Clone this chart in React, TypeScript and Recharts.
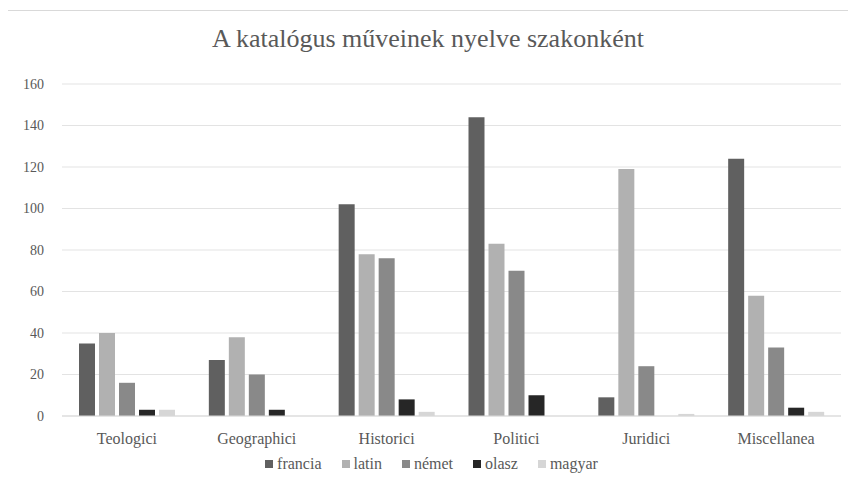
import React from "react";
import {
  BarChart,
  Bar,
  XAxis,
  YAxis,
  CartesianGrid,
  Legend,
} from "recharts";

const categories = [
  "Teologici",
  "Geographici",
  "Historici",
  "Politici",
  "Juridici",
  "Miscellanea",
];
const francia = [35, 27, 102, 144, 9, 124];
const latin = [40, 38, 78, 83, 119, 58];
const nemet = [16, 20, 76, 70, 24, 33];
const olasz = [3, 3, 8, 10, 0, 4];
const magyar = [3, 0, 2, 0, 1, 2];
const yTicks = [0, 20, 40, 60, 80, 100, 120, 140, 160];

const data = categories.map((name, i) => ({
  name,
  francia: francia[i],
  latin: latin[i],
  német: nemet[i],
  olasz: olasz[i],
  magyar: magyar[i],
}));

const series = [
  { key: "francia", color: "#606060" },
  { key: "latin", color: "#b1b1b1" },
  { key: "német", color: "#898989" },
  { key: "olasz", color: "#262626" },
  { key: "magyar", color: "#d6d6d6" },
];

const FONT = "'Liberation Serif', serif";
const TEXT = "#595959";

const LegendContent = () => (
  <div
    style={{
      display: "flex",
      justifyContent: "center",
      gap: 20,
      fontFamily: FONT,
      fontSize: 16,
      color: TEXT,
      lineHeight: "16px",
    }}
  >
    {series.map((s) => (
      <span key={s.key} style={{ display: "flex", alignItems: "center" }}>
        <span
          style={{
            width: 8,
            height: 8,
            background: s.color,
            marginRight: 4,
            display: "inline-block",
          }}
        />
        {s.key}
      </span>
    ))}
  </div>
);

export default function App() {
  return (
    <div
      style={{
        position: "relative",
        width: 856,
        height: 500,
        margin: -8,
        background: "#fff",
        overflow: "hidden",
        fontFamily: FONT,
      }}
    >
      <style>{`.recharts-wrapper, .recharts-wrapper text, .recharts-legend-wrapper { font-family: 'Liberation Serif', serif !important; }`}</style>
      <div
        style={{
          position: "absolute",
          left: 7,
          top: 10,
          width: 860,
          height: 500,
          border: "1px solid #d9d9d9",
        }}
      />
      <div
        style={{
          position: "absolute",
          top: 24,
          width: 856,
          textAlign: "center",
          fontSize: 26,
          color: TEXT,
        }}
      >
        A katalógus műveinek nyelve szakonként
      </div>
      <BarChart
        width={856}
        height={500}
        data={data}
        margin={{ top: 84, right: 15, left: 22, bottom: 28 }}
        barCategoryGap={17}
        barGap={4}
        style={{ position: "absolute", top: 0, left: 0 }}
      >
        <CartesianGrid vertical={false} stroke="#e3e3e3" />
        <XAxis
          dataKey="name"
          axisLine={{ stroke: "#d9d9d9" }}
          tickLine={false}
          tickSize={0}
          tickMargin={17}
          height={40}
          tick={{ fill: TEXT, fontSize: 16 }}
        />
        <YAxis
          width={40}
          domain={[0, 160]}
          ticks={yTicks}
          axisLine={false}
          tickLine={false}
          tickSize={0}
          tickMargin={18}
          tick={{ fill: TEXT, fontSize: 14 }}
        />
        <Legend verticalAlign="bottom" height={16} content={<LegendContent />} />
        {series.map((s) => (
          <Bar
            key={s.key}
            dataKey={s.key}
            fill={s.color}
            isAnimationActive={false}
          />
        ))}
      </BarChart>
    </div>
  );
}
